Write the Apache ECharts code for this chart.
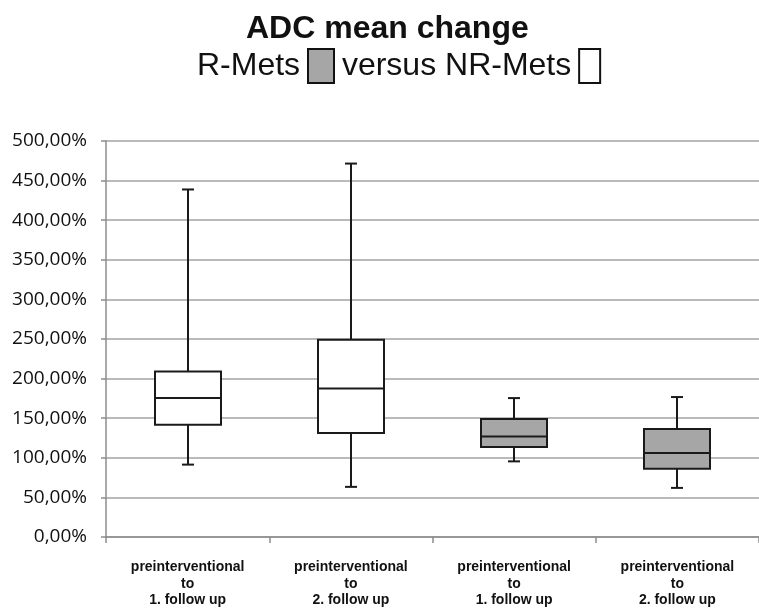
<!DOCTYPE html>
<html>
<head>
<meta charset="utf-8">
<script src="https://cdn.jsdelivr.net/npm/echarts@6/dist/echarts.min.js"></script>
<style>
html,body{margin:0;padding:0;background:#fff;}
#chart{width:759px;height:611px;}
</style>
</head>
<body>
<div id="chart"></div>
<script>
// ---- data ----
const categories = [
  'preinterventional\nto\n1. follow up',
  'preinterventional\nto\n2. follow up',
  'preinterventional\nto\n1. follow up',
  'preinterventional\nto\n2. follow up'
];
const groups = ['NR-Mets', 'NR-Mets', 'R-Mets', 'R-Mets'];
const whiskerLow  = [91.4, 63.3, 95.5, 62.0];
const q1Values    = [141.8, 131.3, 113.7, 86.3];
const medianVals  = [175.4, 187.5, 127.0, 106.1];
const q3Values    = [208.9, 248.9, 148.9, 136.3];
const whiskerHigh = [438.8, 471.5, 175.4, 176.7];
const yTicks = [0, 50, 100, 150, 200, 250, 300, 350, 400, 450, 500];
const yTickLabels = ['0,00%', '50,00%', '100,00%', '150,00%', '200,00%', '250,00%', '300,00%', '350,00%', '400,00%', '450,00%', '500,00%'];

// ---- styles ----
const groupFill = { 'NR-Mets': '#ffffff', 'R-Mets': '#a6a6a6' };
const ink = '#1a1a1a';

function seriesData(group) {
  const out = [];
  categories.forEach((c, i) => {
    if (groups[i] === group) {
      out.push([i, whiskerLow[i], q1Values[i], medianVals[i], q3Values[i], whiskerHigh[i]]);
    }
  });
  return out;
}

function renderBox(params, api) {
  const idx = api.value(0);
  const pLow = api.coord([idx, api.value(1)]);
  const pQ1 = api.coord([idx, api.value(2)]);
  const pMed = api.coord([idx, api.value(3)]);
  const pQ3 = api.coord([idx, api.value(4)]);
  const pHigh = api.coord([idx, api.value(5)]);
  const cx = Math.round(pLow[0]);
  const bw = 66;
  const cap = 12;
  const fill = groupFill[params.seriesName];
  const ls = { stroke: ink, lineWidth: 2 };
  return {
    type: 'group',
    children: [
      { type: 'line', shape: { x1: cx, y1: pHigh[1], x2: cx, y2: pQ3[1] }, style: ls },
      { type: 'line', shape: { x1: cx, y1: pQ1[1], x2: cx, y2: pLow[1] }, style: ls },
      { type: 'line', shape: { x1: cx - cap / 2, y1: pHigh[1], x2: cx + cap / 2, y2: pHigh[1] }, style: ls },
      { type: 'line', shape: { x1: cx - cap / 2, y1: pLow[1], x2: cx + cap / 2, y2: pLow[1] }, style: ls },
      { type: 'rect', shape: { x: cx - bw / 2, y: pQ3[1], width: bw, height: pQ1[1] - pQ3[1] }, style: { fill: fill, stroke: ink, lineWidth: 2 } },
      { type: 'line', shape: { x1: cx - bw / 2, y1: pMed[1], x2: cx + bw / 2, y2: pMed[1] }, style: ls }
    ]
  };
}

const chart = echarts.init(document.getElementById('chart'));
chart.setOption({
  animation: false,
  backgroundColor: '#ffffff',
  title: [
    {
      text: 'ADC mean change',
      left: 241,
      top: 8,
      textStyle: { fontFamily: 'Liberation Sans, Arial, sans-serif', fontWeight: 'bold', fontSize: 32, color: '#111' }
    },
    {
      text: 'R-Mets {g| } versus NR-Mets {w| }',
      left: 192,
      top: 44,
      textStyle: {
        fontFamily: 'Liberation Sans, Arial, sans-serif',
        fontWeight: 'normal',
        fontSize: 32,
        color: '#111',
        lineHeight: 34,
        rich: {
          g: { width: 24, height: 32, backgroundColor: '#a6a6a6', borderColor: '#111', borderWidth: 2, verticalAlign: 'middle' },
          w: { width: 19, height: 32, backgroundColor: '#ffffff', borderColor: '#111', borderWidth: 2, verticalAlign: 'middle' }
        }
      }
    }
  ],
  grid: { left: 106, right: -4, top: 141, bottom: 74, containLabel: false },
  xAxis: {
    type: 'category',
    data: categories,
    boundaryGap: true,
    axisLine: { show: true, lineStyle: { color: '#8c8c8c', width: 1.5 } },
    axisTick: { show: true, alignWithLabel: false, length: 6, lineStyle: { color: '#8c8c8c', width: 1.5 } },
    axisLabel: {
      interval: 0,
      margin: 22,
      fontFamily: 'Liberation Sans, Arial, sans-serif',
      fontWeight: 'bold',
      fontSize: 14,
      lineHeight: 16.5,
      color: '#111'
    },
    splitLine: { show: false }
  },
  yAxis: {
    type: 'value',
    min: 0,
    max: 500,
    interval: 50,
    axisLine: { show: true, lineStyle: { color: '#8c8c8c', width: 1.5 } },
    axisTick: { show: true, length: 5, lineStyle: { color: '#8c8c8c', width: 1.5 } },
    axisLabel: {
      margin: 19,
      fontFamily: 'Open Sans, Noto Sans, sans-serif',
      fontSize: 19,
      color: '#111',
      formatter: function (v) {
        const i = yTicks.indexOf(v);
        return i >= 0 ? yTickLabels[i] : '';
      }
    },
    splitLine: { show: true, lineStyle: { color: '#a3a3a3', width: 1.5 } }
  },
  series: [
    { name: 'NR-Mets', type: 'custom', renderItem: renderBox, data: seriesData('NR-Mets'), encode: { x: 0, y: [1, 2, 3, 4, 5] }, z: 5 },
    { name: 'R-Mets', type: 'custom', renderItem: renderBox, data: seriesData('R-Mets'), encode: { x: 0, y: [1, 2, 3, 4, 5] }, z: 5 }
  ]
});
</script>
</body>
</html>
